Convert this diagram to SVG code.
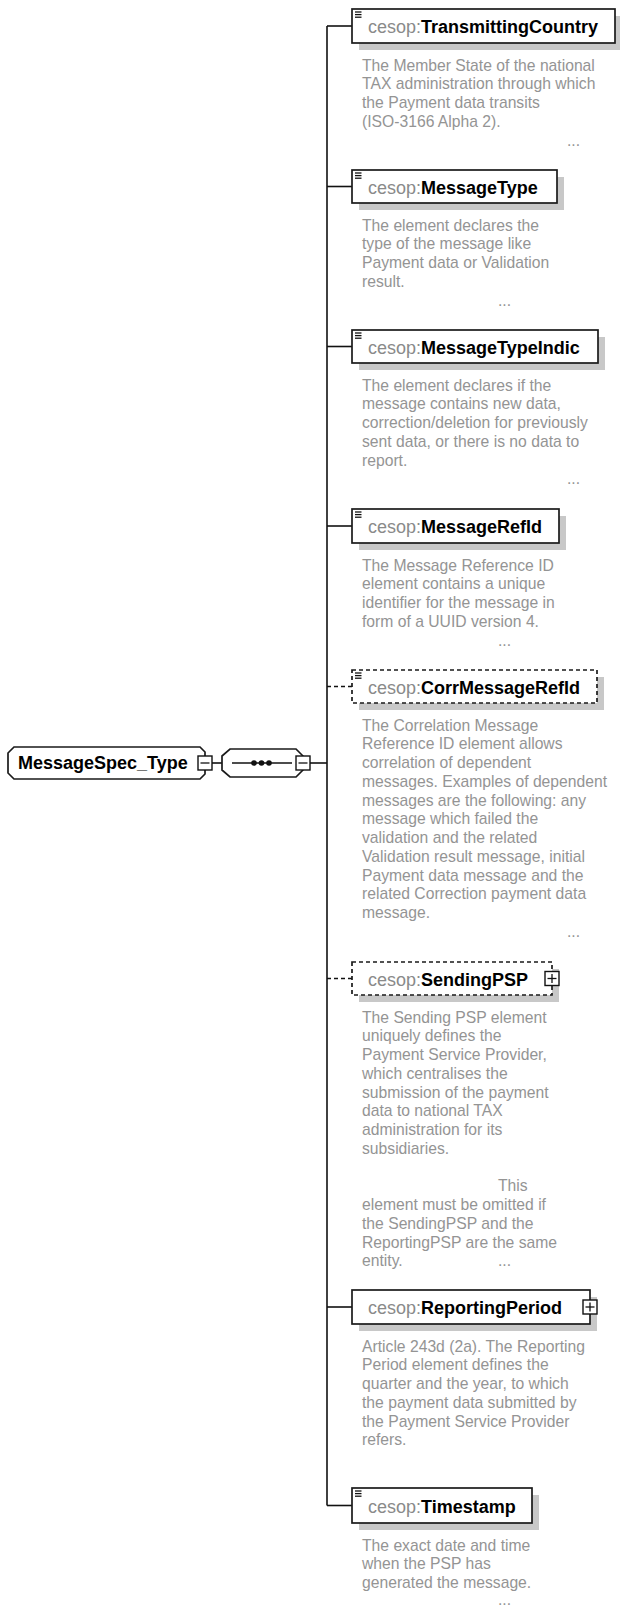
<svg xmlns="http://www.w3.org/2000/svg" width="620" height="1607" viewBox="0 0 620 1607">
<style>
.box{fill:#fff;stroke:#1a1a1a;stroke-width:1.7}
.dash{stroke-dasharray:4 3}
.sh{fill:#c8c8c8}
.t{font-family:"Liberation Sans",Arial,sans-serif;font-size:18px}
.pre{fill:#8a8a8a}
.nm{fill:#000;font-weight:bold}
.d{font-family:"Liberation Sans",Arial,sans-serif;font-size:15.7px;fill:#949494}
.c{stroke:#111;stroke-width:1.6;fill:none}
.ic{stroke:#111;stroke-width:1.3}
.btn{fill:#fff;stroke:#111;stroke-width:1.4}
</style>
<defs>
<g id="menu"><line class="ic" x1="0" y1="0" x2="6.5" y2="0"/><line class="ic" x1="0" y1="2.6" x2="6.5" y2="2.6"/><line class="ic" x1="0" y1="5.2" x2="6.5" y2="5.2"/></g>
<g id="minus"><rect class="btn" x="-7" y="-7" width="14" height="14"/><line class="ic" x1="-4.5" y1="0" x2="4.5" y2="0"/></g>
<g id="plus"><rect class="btn" x="-7" y="-7" width="14" height="14"/><line class="ic" x1="-4.5" y1="0" x2="4.5" y2="0"/><line class="ic" x1="0" y1="-4.5" x2="0" y2="4.5"/></g>
</defs>
<g id="connectors">
<line class="c" x1="327" y1="26" x2="327" y2="1505.5"/>
<line class="c" x1="327" y1="26" x2="352" y2="26"/>
<line class="c" x1="327" y1="186.5" x2="352" y2="186.5"/>
<line class="c" x1="327" y1="346.5" x2="352" y2="346.5"/>
<line class="c" x1="327" y1="526" x2="352" y2="526"/>
<line class="c dash" x1="327" y1="686.5" x2="352" y2="686.5"/>
<line class="c dash" x1="327" y1="978.5" x2="352" y2="978.5"/>
<line class="c" x1="327" y1="1307" x2="352" y2="1307"/>
<line class="c" x1="327" y1="1505.5" x2="352" y2="1505.5"/>
<line class="c" x1="310" y1="763" x2="327" y2="763"/>
<line class="c" x1="212" y1="763" x2="222" y2="763"/>
</g>
<g id="root">
<polygon class="box" points="14,747 200,747 205,752 205,774 200,779 14,779 8,773 8,753"/>
<text class="t nm" x="18" y="769" font-size="17">MessageSpec_Type</text>
<use href="#minus" x="205" y="763"/>
</g>
<g id="sequence">
<polygon class="box" points="230,749 296,749 303,756 303,770 296,777 230,777 222,770 222,756"/>
<line class="c" x1="232" y1="763" x2="292" y2="763"/>
<circle cx="254" cy="763" r="2.8" fill="#111"/>
<circle cx="261.5" cy="763" r="2.8" fill="#111"/>
<circle cx="269" cy="763" r="2.8" fill="#111"/>
<use href="#minus" x="303" y="763"/>
</g>
<g id="TransmittingCountry">
<rect class="sh" x="359" y="16" width="263" height="34"/>
<rect class="box" x="352" y="9" width="263" height="34"/>
<use href="#menu" x="355" y="12"/>
<text class="t" x="368" y="32.5"><tspan class="pre">cesop:</tspan><tspan class="nm">TransmittingCountry</tspan></text>
<text class="d" x="362" y="70.5">The Member State of the national</text>
<text class="d" x="362" y="89.25">TAX administration through which</text>
<text class="d" x="362" y="108">the Payment data transits</text>
<text class="d" x="362" y="126.75">(ISO-3166 Alpha 2).</text>
<text class="d" x="567" y="145.5">...</text>
</g>
<g id="MessageType">
<rect class="sh" x="359" y="177" width="205" height="33"/>
<rect class="box" x="352" y="170" width="205" height="33"/>
<use href="#menu" x="355" y="173"/>
<text class="t" x="368" y="193.5"><tspan class="pre">cesop:</tspan><tspan class="nm">MessageType</tspan></text>
<text class="d" x="362" y="230.5">The element declares the</text>
<text class="d" x="362" y="249.25">type of the message like</text>
<text class="d" x="362" y="268">Payment data or Validation</text>
<text class="d" x="362" y="286.75">result.</text>
<text class="d" x="498" y="305.5">...</text>
</g>
<g id="MessageTypeIndic">
<rect class="sh" x="359" y="337" width="246" height="33"/>
<rect class="box" x="352" y="330" width="246" height="33"/>
<use href="#menu" x="355" y="333"/>
<text class="t" x="368" y="353.5"><tspan class="pre">cesop:</tspan><tspan class="nm">MessageTypeIndic</tspan></text>
<text class="d" x="362" y="390.5">The element declares if the</text>
<text class="d" x="362" y="409.25">message contains new data,</text>
<text class="d" x="362" y="428">correction/deletion for previously</text>
<text class="d" x="362" y="446.75">sent data, or there is no data to</text>
<text class="d" x="362" y="465.5">report.</text>
<text class="d" x="567" y="484.25">...</text>
</g>
<g id="MessageRefId">
<rect class="sh" x="359" y="516" width="207" height="34"/>
<rect class="box" x="352" y="509" width="207" height="34"/>
<use href="#menu" x="355" y="512"/>
<text class="t" x="368" y="533"><tspan class="pre">cesop:</tspan><tspan class="nm">MessageRefId</tspan></text>
<text class="d" x="362" y="570.5">The Message Reference ID</text>
<text class="d" x="362" y="589.25">element contains a unique</text>
<text class="d" x="362" y="608">identifier for the message in</text>
<text class="d" x="362" y="626.75">form of a UUID version 4.</text>
<text class="d" x="498" y="645.5">...</text>
</g>
<g id="CorrMessageRefId">
<rect class="sh" x="359" y="677" width="245" height="33"/>
<rect class="box dash" x="352" y="670" width="245" height="33"/>
<use href="#menu" x="355" y="673"/>
<text class="t" x="368" y="693.5"><tspan class="pre">cesop:</tspan><tspan class="nm">CorrMessageRefId</tspan></text>
<text class="d" x="362" y="730.5">The Correlation Message</text>
<text class="d" x="362" y="749.25">Reference ID element allows</text>
<text class="d" x="362" y="768">correlation of dependent</text>
<text class="d" x="362" y="786.75">messages. Examples of dependent</text>
<text class="d" x="362" y="805.5">messages are the following: any</text>
<text class="d" x="362" y="824.25">message which failed the</text>
<text class="d" x="362" y="843">validation and the related</text>
<text class="d" x="362" y="861.75">Validation result message, initial</text>
<text class="d" x="362" y="880.5">Payment data message and the</text>
<text class="d" x="362" y="899.25">related Correction payment data</text>
<text class="d" x="362" y="918">message.</text>
<text class="d" x="567" y="936.75">...</text>
</g>
<g id="SendingPSP">
<rect class="sh" x="359" y="969" width="200" height="33"/>
<rect class="box dash" x="352" y="962" width="200" height="33"/>
<use href="#plus" x="552" y="978.5"/>
<text class="t" x="368" y="985.5"><tspan class="pre">cesop:</tspan><tspan class="nm">SendingPSP</tspan></text>
<text class="d" x="362" y="1022.5">The Sending PSP element</text>
<text class="d" x="362" y="1041.25">uniquely defines the</text>
<text class="d" x="362" y="1060">Payment Service Provider,</text>
<text class="d" x="362" y="1078.75">which centralises the</text>
<text class="d" x="362" y="1097.5">submission of the payment</text>
<text class="d" x="362" y="1116.25">data to national TAX</text>
<text class="d" x="362" y="1135">administration for its</text>
<text class="d" x="362" y="1153.75">subsidiaries.</text>
<text class="d" x="498" y="1191.25">This</text>
<text class="d" x="362" y="1210">element must be omitted if</text>
<text class="d" x="362" y="1228.75">the SendingPSP and the</text>
<text class="d" x="362" y="1247.5">ReportingPSP are the same</text>
<text class="d" x="362" y="1266.25">entity.</text>
<text class="d" x="498" y="1266.25">...</text>
</g>
<g id="ReportingPeriod">
<rect class="sh" x="359" y="1297" width="238" height="34"/>
<rect class="box" x="352" y="1290" width="238" height="34"/>
<use href="#plus" x="590" y="1307"/>
<text class="t" x="368" y="1314"><tspan class="pre">cesop:</tspan><tspan class="nm">ReportingPeriod</tspan></text>
<text class="d" x="362" y="1351.5">Article 243d (2a). The Reporting</text>
<text class="d" x="362" y="1370.25">Period element defines the</text>
<text class="d" x="362" y="1389">quarter and the year, to which</text>
<text class="d" x="362" y="1407.75">the payment data submitted by</text>
<text class="d" x="362" y="1426.5">the Payment Service Provider</text>
<text class="d" x="362" y="1445.25">refers.</text>
</g>
<g id="Timestamp">
<rect class="sh" x="359" y="1495" width="180" height="35"/>
<rect class="box" x="352" y="1488" width="180" height="35"/>
<use href="#menu" x="355" y="1491"/>
<text class="t" x="368" y="1512.5"><tspan class="pre">cesop:</tspan><tspan class="nm">Timestamp</tspan></text>
<text class="d" x="362" y="1550.5">The exact date and time</text>
<text class="d" x="362" y="1569.25">when the PSP has</text>
<text class="d" x="362" y="1588">generated the message.</text>
<text class="d" x="498" y="1605">...</text>
</g>
</svg>
